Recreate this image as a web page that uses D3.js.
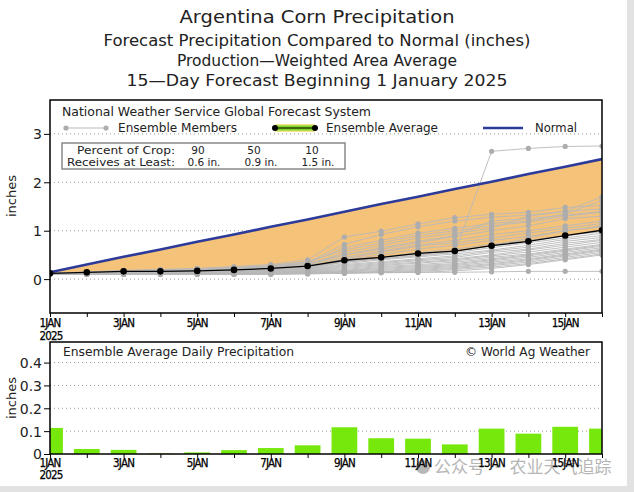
<!DOCTYPE html>
<html><head><meta charset="utf-8">
<script src="https://cdn.jsdelivr.net/npm/d3@7"></script>
<style>body{margin:0;background:#fff}svg{display:block}</style>
</head><body>
<script>
const days = [1,2,3,4,5,6,7,8,9,10,11,12,13,14,15,16];
const dayLabels = ["1JAN","3JAN","5JAN","7JAN","9JAN","11JAN","13JAN","15JAN"];
const labelDays = [1,3,5,7,9,11,13,15];
const normal = [0.14,0.30,0.46,0.61,0.77,0.92,1.08,1.23,1.39,1.55,1.70,1.86,2.01,2.17,2.32,2.48];
const ensAvg = [0.12,0.14,0.16,0.16,0.17,0.19,0.22,0.27,0.39,0.45,0.53,0.58,0.69,0.78,0.90,1.01];
const daily = [0.114,0.022,0.018,0.002,0.007,0.017,0.026,0.038,0.117,0.069,0.067,0.042,0.111,0.089,0.119,0.111];
const topTicks = [0,1,2,3];
const botTicks = [0,0.1,0.2,0.3,0.4];
const members = [
[0.11,0.13,0.15,0.16,0.17,0.19,0.22,0.26,0.35,0.42,0.48,0.55,2.64,2.70,2.74,2.75],
[0.10,0.11,0.12,0.12,0.12,0.12,0.13,0.13,0.14,0.14,0.14,0.14,0.15,0.16,0.16,0.16],
[0.12,0.15,0.18,0.20,0.22,0.26,0.30,0.40,0.87,0.99,1.14,1.27,1.34,1.38,1.48,1.52],
[0.12,0.14,0.17,0.19,0.21,0.24,0.28,0.35,0.72,0.92,1.08,1.20,1.28,1.32,1.40,1.70],
[0.11,0.14,0.16,0.18,0.19,0.22,0.26,0.33,0.65,0.80,0.95,1.05,1.15,1.20,1.35,1.62],
[0.11,0.13,0.15,0.17,0.18,0.21,0.24,0.30,0.55,0.70,0.85,0.95,1.05,1.30,1.40,1.45],
[0.12,0.14,0.16,0.17,0.19,0.21,0.25,0.30,0.50,0.62,0.75,0.88,1.00,1.10,1.25,1.30],
[0.11,0.13,0.15,0.16,0.18,0.20,0.23,0.28,0.45,0.58,0.70,0.80,0.92,1.00,1.10,1.20],
[0.11,0.13,0.14,0.15,0.16,0.18,0.21,0.25,0.42,0.55,0.68,0.75,0.85,0.95,1.05,1.15],
[0.11,0.12,0.14,0.15,0.16,0.18,0.20,0.24,0.40,0.50,0.62,0.70,0.80,0.88,1.00,1.08],
[0.10,0.12,0.13,0.14,0.15,0.17,0.19,0.22,0.38,0.45,0.55,0.62,0.72,0.80,0.90,0.98],
[0.10,0.12,0.13,0.14,0.15,0.16,0.18,0.21,0.35,0.42,0.50,0.55,0.65,0.75,0.85,0.95],
[0.11,0.12,0.13,0.14,0.15,0.16,0.18,0.20,0.32,0.40,0.46,0.52,0.60,0.70,0.82,0.90],
[0.10,0.11,0.12,0.13,0.14,0.15,0.17,0.19,0.30,0.36,0.42,0.48,0.58,0.66,0.78,0.86],
[0.10,0.11,0.12,0.13,0.14,0.15,0.16,0.18,0.28,0.34,0.40,0.45,0.55,0.62,0.74,0.82],
[0.10,0.11,0.12,0.13,0.13,0.14,0.15,0.17,0.26,0.32,0.38,0.42,0.50,0.60,0.70,0.80],
[0.10,0.11,0.12,0.12,0.13,0.14,0.15,0.16,0.24,0.30,0.35,0.40,0.48,0.56,0.66,0.76],
[0.10,0.11,0.11,0.12,0.12,0.13,0.14,0.16,0.22,0.28,0.33,0.38,0.45,0.52,0.62,0.72],
[0.10,0.10,0.11,0.12,0.12,0.13,0.14,0.15,0.20,0.26,0.30,0.35,0.42,0.50,0.60,0.70],
[0.10,0.10,0.11,0.11,0.12,0.12,0.13,0.14,0.18,0.24,0.28,0.32,0.40,0.48,0.58,0.68],
[0.10,0.10,0.11,0.11,0.11,0.12,0.13,0.14,0.17,0.22,0.26,0.30,0.38,0.45,0.55,0.65],
[0.10,0.10,0.10,0.11,0.11,0.12,0.12,0.13,0.16,0.20,0.24,0.28,0.35,0.42,0.52,0.62],
[0.10,0.10,0.10,0.10,0.11,0.11,0.12,0.13,0.15,0.18,0.22,0.26,0.32,0.40,0.50,0.60],
[0.10,0.10,0.10,0.10,0.10,0.11,0.11,0.12,0.14,0.16,0.20,0.24,0.30,0.38,0.48,0.58],
[0.10,0.10,0.10,0.10,0.10,0.10,0.11,0.12,0.13,0.15,0.18,0.22,0.28,0.35,0.45,0.55],
[0.10,0.10,0.10,0.10,0.10,0.10,0.10,0.11,0.12,0.14,0.16,0.20,0.25,0.32,0.42,0.52],
[0.10,0.10,0.10,0.10,0.10,0.10,0.10,0.11,0.12,0.13,0.14,0.17,0.22,0.30,0.40,0.50],
[0.12,0.14,0.17,0.19,0.21,0.24,0.28,0.36,0.60,0.75,0.90,1.00,1.10,1.18,1.30,1.38],
[0.11,0.13,0.15,0.17,0.19,0.22,0.26,0.32,0.50,0.65,0.78,0.90,1.20,1.25,1.32,1.40],
[0.11,0.12,0.14,0.15,0.16,0.18,0.20,0.23,0.36,0.44,0.52,0.58,0.68,0.85,1.00,1.10]
];

const W = 634, H = 492;
const svg = d3.select("body").append("svg").attr("width", W).attr("height", H);
const font = "DejaVu Sans";
const cfont = "DejaVu Sans Condensed";
const L = 50, R = 602, T1 = 100, B1 = 313, T2 = 342, B2 = 454;

const x = d3.scaleLinear().domain([1,16]).range([L,R]);
const yT = d3.scaleLinear().domain([-0.7,3.7]).range([B1,T1]);
const yB = d3.scaleLinear().domain([0,0.49]).range([B2,T2]);

// page border strips
svg.append("rect").attr("x",627).attr("y",0).attr("width",7).attr("height",H).attr("fill","#e2e2e2");
svg.append("rect").attr("x",0).attr("y",486).attr("width",W).attr("height",6).attr("fill","#e2e2e2");

// titles
const titles = [
  {t:"Argentina Corn Precipitation", y:23, s:17, w:275},
  {t:"Forecast Precipitation Compared to Normal (inches)", y:46, s:15, w:427},
  {t:"Production\u2014Weighted Area Average", y:65.5, s:15, w:280},
  {t:"15\u2014Day Forecast Beginning 1 January 2025", y:86, s:15, w:381}
];
svg.selectAll("text.title").data(titles).enter().append("text")
  .attr("x",317).attr("y",d=>d.y).attr("text-anchor","middle")
  .attr("font-family",font).attr("font-size",d=>d.s).attr("fill","#222")
  .attr("textLength",d=>d.w).attr("lengthAdjust","spacingAndGlyphs").text(d=>d.t);

// ---------- top panel ----------
svg.append("defs").append("clipPath").attr("id","clipT")
  .append("rect").attr("x",L).attr("y",T1).attr("width",R-L).attr("height",B1-T1);
const gT = svg.append("g").attr("clip-path","url(#clipT)");

gT.selectAll("line.grid").data(topTicks).enter().append("line")
  .attr("x1",L).attr("x2",R).attr("y1",d=>yT(d)).attr("y2",d=>yT(d))
  .attr("stroke","#999").attr("stroke-width",1).attr("stroke-dasharray","1,3");

const area = d3.area().x((d,i)=>x(days[i])).y0((d,i)=>yT(ensAvg[i])).y1((d,i)=>yT(normal[i]));
gT.append("path").datum(normal).attr("d",area).attr("fill","#f5c27a");

const line = d3.line().x((d,i)=>x(days[i])).y(d=>yT(d));
gT.selectAll("path.mem").data(members).enter().append("path")
  .attr("d",line).attr("fill","none").attr("stroke","#b9b9b9").attr("stroke-width",0.9);
members.forEach(m=>{
  gT.selectAll(null).data(m).enter().append("circle")
    .attr("cx",(d,i)=>x(days[i])).attr("cy",d=>yT(d)).attr("r",2.6).attr("fill","#adadad");
});
gT.append("path").datum(normal).attr("d",line).attr("fill","none").attr("stroke","#2c3a9a").attr("stroke-width",2.6);
gT.append("path").datum(ensAvg).attr("d",line).attr("fill","none").attr("stroke","#000").attr("stroke-width",1.3);
gT.selectAll("circle.avg").data(ensAvg).enter().append("circle")
  .attr("cx",(d,i)=>x(days[i])).attr("cy",d=>yT(d)).attr("r",3.3).attr("fill","#000");

// legend
svg.append("text").attr("x",62).attr("y",116).attr("font-family",font).attr("font-size",12)
  .attr("fill","#222").attr("textLength",309).attr("lengthAdjust","spacingAndGlyphs")
  .text("National Weather Service Global Forecast System");
svg.append("line").attr("x1",66).attr("x2",106).attr("y1",128).attr("y2",128).attr("stroke","#b9b9b9").attr("stroke-width",1);
[66,106].forEach(cx=>svg.append("circle").attr("cx",cx).attr("cy",128).attr("r",2.6).attr("fill","#adadad"));
svg.append("text").attr("x",118).attr("y",132).attr("font-family",font).attr("font-size",12)
  .attr("fill","#222").attr("textLength",119).attr("lengthAdjust","spacingAndGlyphs").text("Ensemble Members");
svg.append("line").attr("x1",275).attr("x2",315).attr("y1",128).attr("y2",128).attr("stroke","#eee58a").attr("stroke-width",8);
svg.append("line").attr("x1",276).attr("x2",314).attr("y1",128).attr("y2",128).attr("stroke","#7fd323").attr("stroke-width",5);
svg.append("line").attr("x1",275).attr("x2",315).attr("y1",128).attr("y2",128).attr("stroke","#000").attr("stroke-width",1);
[275,315].forEach(cx=>svg.append("circle").attr("cx",cx).attr("cy",128).attr("r",3).attr("fill","#000"));
svg.append("text").attr("x",326).attr("y",132).attr("font-family",font).attr("font-size",12)
  .attr("fill","#222").attr("textLength",112).attr("lengthAdjust","spacingAndGlyphs").text("Ensemble Average");
svg.append("line").attr("x1",483).attr("x2",523).attr("y1",128).attr("y2",128).attr("stroke","#2c3a9a").attr("stroke-width",2.6);
svg.append("text").attr("x",535).attr("y",132).attr("font-family",font).attr("font-size",12)
  .attr("fill","#222").attr("textLength",42).attr("lengthAdjust","spacingAndGlyphs").text("Normal");

// crop box
svg.append("rect").attr("x",62).attr("y",143).attr("width",283).attr("height",26)
  .attr("fill","#fff").attr("stroke","#888").attr("stroke-width",1.5);
const cropPct = ["90","50","10"];
const cropAmt = ["0.6 in.","0.9 in.","1.5 in."];
const pctX = [198,254,312];
const amtX = [204,261,318];
svg.append("text").attr("x",175).attr("y",154).attr("text-anchor","end").attr("font-family",font)
  .attr("font-size",10.5).attr("fill","#222").attr("textLength",98).attr("lengthAdjust","spacingAndGlyphs").text("Percent of Crop:");
svg.append("text").attr("x",175).attr("y",165.5).attr("text-anchor","end").attr("font-family",font)
  .attr("font-size",10.5).attr("fill","#222").attr("textLength",108).attr("lengthAdjust","spacingAndGlyphs").text("Receives at Least:");
svg.selectAll("text.pct").data(cropPct).enter().append("text").attr("x",(d,i)=>pctX[i]).attr("y",154)
  .attr("text-anchor","middle").attr("font-family",font).attr("font-size",10.5).attr("fill","#222").text(d=>d);
svg.selectAll("text.amt").data(cropAmt).enter().append("text").attr("x",(d,i)=>amtX[i]).attr("y",165.5)
  .attr("text-anchor","middle").attr("font-family",font).attr("font-size",10.5).attr("fill","#222").text(d=>d);

// top frame & axes
svg.append("rect").attr("x",L).attr("y",T1).attr("width",R-L).attr("height",B1-T1)
  .attr("fill","none").attr("stroke","#000").attr("stroke-width",1.5);
const yAxT = svg.append("g").attr("transform",`translate(${L},0)`)
  .call(d3.axisLeft(yT).tickValues(topTicks).tickSize(6).tickFormat(d3.format("d")));
yAxT.select(".domain").remove();
yAxT.selectAll("text").attr("font-family",font).attr("font-size",14).attr("fill","#222").attr("dy","0.35em").attr("x",-8);
const xAxT = svg.append("g").attr("transform",`translate(0,${B1})`)
  .call(d3.axisBottom(x).tickValues(days).tickSize(4).tickFormat(""));
xAxT.select(".domain").remove();
svg.selectAll("text.xlT").data(dayLabels).enter().append("text")
  .attr("x",(d,i)=>x(labelDays[i])).attr("y",327).attr("text-anchor","middle")
  .attr("font-family",cfont).attr("font-size",11.5).attr("fill","#000")
  .attr("letter-spacing","-0.8").attr("stroke","#000").attr("stroke-width",0.25).text(d=>d);
svg.append("text").attr("x",x(1)+1).attr("y",339.5).attr("text-anchor","middle")
  .attr("font-family",cfont).attr("font-size",11.5).attr("fill","#000").attr("letter-spacing","-0.8")
  .attr("stroke","#000").attr("stroke-width",0.25).text("2025");
svg.append("text").attr("transform",`translate(16,196) rotate(-90)`).attr("text-anchor","middle")
  .attr("font-family",font).attr("font-size",13).attr("fill","#222").text("inches");

// ---------- bottom panel ----------
svg.selectAll("line.gridB").data(botTicks.slice(1)).enter().append("line")
  .attr("x1",L).attr("x2",R).attr("y1",d=>yB(d)).attr("y2",d=>yB(d))
  .attr("stroke","#999").attr("stroke-width",1).attr("stroke-dasharray","1,3");
svg.append("defs").append("clipPath").attr("id","clipB")
  .append("rect").attr("x",L).attr("y",T2).attr("width",R-L).attr("height",B2-T2);
const bw = (x(2)-x(1))*0.7;
svg.append("g").attr("clip-path","url(#clipB)").selectAll("rect").data(daily).enter().append("rect")
  .attr("x",(d,i)=>x(days[i])-bw/2).attr("width",bw)
  .attr("y",d=>yB(d)).attr("height",d=>yB(0)-yB(d)).attr("fill","#77e80c");
svg.append("path").attr("d",`M${L},${B2}V${T2}H${R}V${B2}`).attr("fill","none").attr("stroke","#000").attr("stroke-width",1.5);
svg.append("line").attr("x1",L).attr("x2",R).attr("y1",B2).attr("y2",B2).attr("stroke","#000").attr("stroke-width",1.5);
const yAxB = svg.append("g").attr("transform",`translate(${L},0)`)
  .call(d3.axisLeft(yB).tickValues(botTicks).tickSize(6).tickFormat(d=>d===0?"0":d3.format(".1f")(d)));
yAxB.select(".domain").remove();
yAxB.selectAll("text").attr("font-family",font).attr("font-size",14).attr("fill","#222").attr("dy","0.35em").attr("x",-8);
const xAxB = svg.append("g").attr("transform",`translate(0,${B2})`)
  .call(d3.axisBottom(x).tickValues(days).tickSize(4).tickFormat(""));
xAxB.select(".domain").remove();

// watermark (under the date labels)
svg.append("circle").attr("cx",423).attr("cy",467).attr("r",7).attr("fill","#999").attr("opacity",0.7);
svg.append("text").attr("x",434).attr("y",473).attr("font-family","Noto Sans CJK SC").attr("font-size",17)
  .attr("fill","#aaa").attr("opacity",0.85).text("公众号 · 农业天气追踪");

svg.selectAll("text.xlB").data(dayLabels).enter().append("text")
  .attr("x",(d,i)=>x(labelDays[i])).attr("y",466.5).attr("text-anchor","middle")
  .attr("font-family",cfont).attr("font-size",11.5).attr("fill","#000")
  .attr("letter-spacing","-0.8").attr("stroke","#000").attr("stroke-width",0.25).text(d=>d);
svg.append("text").attr("x",x(1)+1).attr("y",479).attr("text-anchor","middle")
  .attr("font-family",cfont).attr("font-size",11.5).attr("fill","#000").attr("letter-spacing","-0.8")
  .attr("stroke","#000").attr("stroke-width",0.25).text("2025");
svg.append("text").attr("transform",`translate(16,398) rotate(-90)`).attr("text-anchor","middle")
  .attr("font-family",font).attr("font-size",13).attr("fill","#222").text("inches");
svg.append("text").attr("x",63).attr("y",356).attr("font-family",font).attr("font-size",12)
  .attr("fill","#222").attr("textLength",231).attr("lengthAdjust","spacingAndGlyphs").text("Ensemble Average Daily Precipitation");
svg.append("text").attr("x",590).attr("y",356).attr("text-anchor","end").attr("font-family",font).attr("font-size",12)
  .attr("fill","#222").attr("textLength",125).attr("lengthAdjust","spacingAndGlyphs").text("\u00A9 World Ag Weather");
</script>
</body></html>
